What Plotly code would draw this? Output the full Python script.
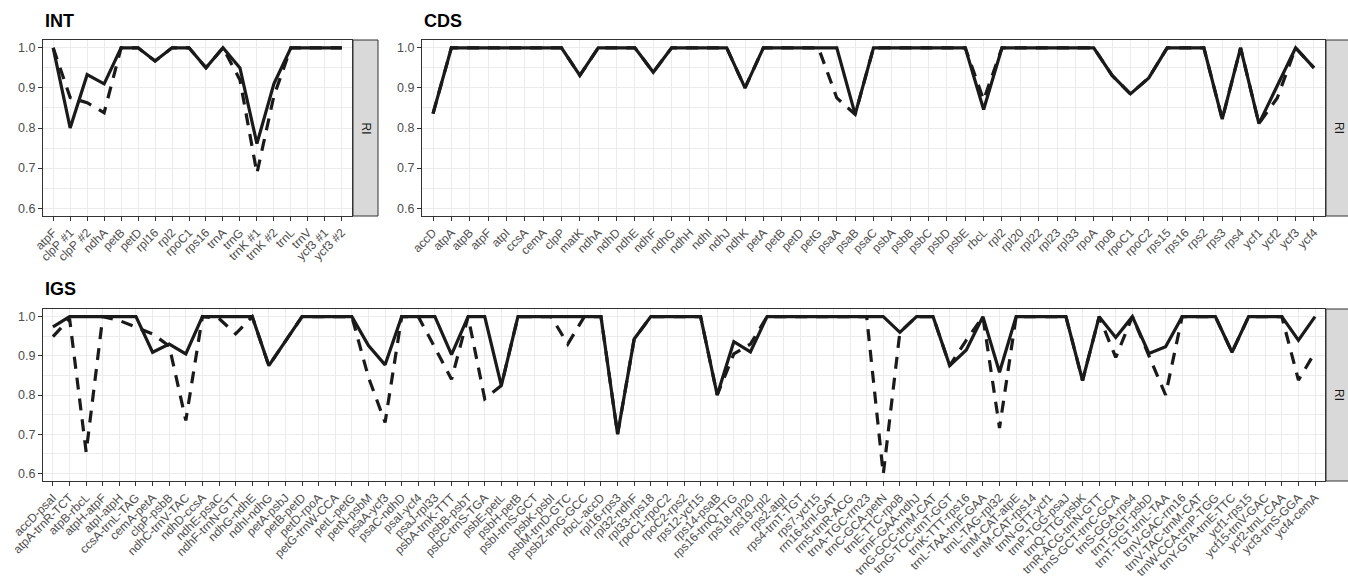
import plotly.graph_objects as go

# ---------------- data ----------------
int_cats = ["atpF", "clpP #1", "clpP #2", "ndhA", "petB", "petD", "rpl16", "rpl2", "rpoC1",
            "rps16", "trnA", "trnG", "trnK #1", "trnK #2", "trnL", "trnV", "ycf3 #1", "ycf3 #2"]
int_a = [1.0, 0.80, 0.933, 0.91, 1.0, 1.0, 0.967, 1.0, 1.0,
         0.95, 1.0, 0.95, 0.761, 0.91, 1.0, 1.0, 1.0, 1.0]
int_b = [1.0, 0.876, 0.863, 0.838, 1.0, 1.0, 0.967, 1.0, 1.0,
         0.95, 1.0, 0.92, 0.687, 0.88, 1.0, 1.0, 1.0, 1.0]

cds_cats = ["accD", "atpA", "atpB", "atpF", "atpI", "ccsA", "cemA", "clpP", "matK", "ndhA",
            "ndhD", "ndhE", "ndhF", "ndhG", "ndhH", "ndhI", "ndhJ", "ndhK", "petA", "petB",
            "petD", "petG", "psaA", "psaB", "psaC", "psbA", "psbB", "psbC", "psbD", "psbE",
            "rbcL", "rpl2", "rpl20", "rpl22", "rpl23", "rpl33", "rpoA", "rpoB", "rpoC1", "rpoC2",
            "rps15", "rps16", "rps2", "rps3", "rps4", "ycf1", "ycf2", "ycf3", "ycf4"]
cds_a = [0.836, 1.0, 1.0, 1.0, 1.0, 1.0, 1.0, 1.0, 0.931, 1.0,
         1.0, 1.0, 0.939, 1.0, 1.0, 1.0, 1.0, 0.90, 1.0, 1.0,
         1.0, 1.0, 1.0, 0.834, 1.0, 1.0, 1.0, 1.0, 1.0, 1.0,
         0.846, 1.0, 1.0, 1.0, 1.0, 1.0, 1.0, 0.931, 0.885, 0.925,
         1.0, 1.0, 1.0, 0.822, 1.0, 0.811, 0.905, 1.0, 0.95]
cds_b = [0.836, 1.0, 1.0, 1.0, 1.0, 1.0, 1.0, 1.0, 0.931, 1.0,
         1.0, 1.0, 0.939, 1.0, 1.0, 1.0, 1.0, 0.90, 1.0, 1.0,
         1.0, 1.0, 0.875, 0.834, 1.0, 1.0, 1.0, 1.0, 1.0, 1.0,
         0.87, 1.0, 1.0, 1.0, 1.0, 1.0, 1.0, 0.931, 0.885, 0.925,
         1.0, 1.0, 1.0, 0.822, 1.0, 0.811, 0.875, 1.0, 0.95]

igs_cats = ["accD-psaI", "atpA-trnR-TCT", "atpB-rbcL", "atpH-atpF", "atpI-atpH", "ccsA-trnL-TAG",
            "cemA-petA", "clpP-psbB", "ndhC-trnV-TAC", "ndhD-ccsA", "ndhE-psaC", "ndhF-trnN-GTT",
            "ndhG-ndhE", "ndhI-ndhG", "petA-psbJ", "petB-petD", "petD-rpoA", "petG-trnW-CCA",
            "petL-petG", "petN-psbM", "psaA-ycf3", "psaC-ndhD", "psaI-ycf4", "psaJ-rpl33",
            "psbA-trnK-TTT", "psbB-psbT", "psbC-trnS-TGA", "psbE-petL", "psbH-petB", "psbI-trnS-GCT",
            "psbK-psbI", "psbM-trnD-GTC", "psbZ-trnG-GCC", "rbcL-accD", "rpl16-rps3", "rpl32-ndhF",
            "rpl33-rps18", "rpoC1-rpoC2", "rpoC2-rps2", "rps12-ycf15", "rps14-psaB", "rps16-trnQ-TTG",
            "rps18-rpl20", "rps19-rpl2", "rps2-atpI", "rps4-trnT-TGT", "rps7-ycf15", "rrn16-trnI-GAT",
            "rrn5-trnR-ACG", "trnA-TGC-rrn23", "trnC-GCA-petN", "trnE-TTC-rpoB", "trnF-GAA-ndhJ",
            "trnG-GCC-trnM-CAT", "trnG-TCC-trnT-GGT", "trnK-TTT-rps16", "trnL-TAA-trnF-GAA",
            "trnL-TAG-rpl32", "trnM-CAT-atpE", "trnM-CAT-rps14", "trnN-GTT-ycf1", "trnP-TGG-psaJ",
            "trnQ-TTG-psbK", "trnR-ACG-trnN-GTT", "trnS-GCT-trnC-GCA", "trnS-GGA-rps4",
            "trnT-GGT-psbD", "trnT-TGT-trnL-TAA", "trnV-GAC-rrn16", "trnV-TAC-trnM-CAT",
            "trnW-CCA-trnP-TGG", "trnY-GTA-trnE-TTC", "ycf1-rps15", "ycf15-trnV-GAC",
            "ycf2-trnL-CAA", "ycf3-trnS-GGA", "ycf4-cemA"]
igs_a = [0.974, 1.0, 1.0, 1.0, 1.0, 1.0,
         0.909, 0.93, 0.905, 1.0, 1.0, 1.0,
         1.0, 0.875, 0.937, 1.0, 1.0, 1.0,
         1.0, 0.926, 0.877, 1.0, 1.0, 1.0,
         0.903, 1.0, 1.0, 0.824, 1.0, 1.0,
         1.0, 1.0, 1.0, 1.0, 0.70, 0.943,
         1.0, 1.0, 1.0, 1.0, 0.80, 0.936,
         0.91, 1.0, 1.0, 1.0, 1.0, 1.0,
         1.0, 1.0, 1.0, 0.96, 1.0,
         1.0, 0.875, 0.915, 1.0,
         0.858, 1.0, 1.0, 1.0, 1.0,
         0.837, 1.0, 0.947, 1.0,
         0.906, 0.923, 1.0, 1.0,
         1.0, 0.909, 1.0, 1.0,
         1.0, 0.94, 1.0]
igs_b = [0.949, 0.995, 0.654, 1.0, 0.99, 0.973,
         0.956, 0.925, 0.735, 1.0, 0.995, 0.956,
         1.0, 0.875, 0.937, 1.0, 1.0, 1.0,
         1.0, 0.845, 0.73, 1.0, 1.0, 0.921,
         0.84, 1.0, 0.79, 0.824, 1.0, 1.0,
         1.0, 0.93, 1.0, 1.0, 0.70, 0.943,
         1.0, 1.0, 1.0, 1.0, 0.80, 0.905,
         0.93, 1.0, 1.0, 1.0, 1.0, 1.0,
         1.0, 1.0, 0.598, 0.96, 1.0,
         1.0, 0.875, 0.94, 1.0,
         0.716, 1.0, 1.0, 1.0, 1.0,
         0.837, 1.0, 0.896, 1.0,
         0.90, 0.80, 1.0, 1.0,
         1.0, 0.909, 1.0, 1.0,
         1.0, 0.838, 0.909]

panel_titles = ["INT", "CDS", "IGS"]
strip_label = "RI"
y_ticks = [0.6, 0.7, 0.8, 0.9, 1.0]
y_minor = [0.65, 0.75, 0.85, 0.95]

# ---------------- figure ----------------
W, H = 1348, 580
FONT = "Liberation Sans, Arial, Helvetica, sans-serif"
LINE_C = "#1a1a1a"
fig = go.Figure()

panels = [
    (int_cats, int_a, int_b, "x", "y"),
    (cds_cats, cds_a, cds_b, "x2", "y2"),
    (igs_cats, igs_a, igs_b, "x3", "y3"),
]
for cats, a, b, xa, ya in panels:
    fig.add_trace(go.Scatter(x=cats, y=b, mode="lines", xaxis=xa, yaxis=ya,
                             line=dict(color=LINE_C, width=3.2, dash="12px,9px"),
                             showlegend=False, hoverinfo="x+y"))
    fig.add_trace(go.Scatter(x=cats, y=a, mode="lines", xaxis=xa, yaxis=ya,
                             line=dict(color=LINE_C, width=3.2),
                             showlegend=False, hoverinfo="x+y"))

def px_x(v):
    return v / W

def px_y(v):
    return 1 - v / H

top_dom = [px_y(216), px_y(40)]
bot_dom = [px_y(481), px_y(309)]
yr = [0.5805, 1.0195]

def xaxis(cats, dom, anchor):
    return dict(domain=dom, anchor=anchor, type="category",
                range=[-0.6, len(cats) - 0.4],
                tickmode="array", tickvals=cats, ticktext=cats, tickangle=-45,
                ticks="outside", ticklen=4, tickwidth=1, tickcolor="#333333",
                tickfont=dict(family=FONT, size=12, color="#4D4D4D"),
                showgrid=True, gridcolor="#EBEBEB", gridwidth=1.1,
                showline=True, mirror=True, linecolor="#333333", linewidth=1,
                zeroline=False, automargin=False, fixedrange=True)

def yaxis(dom, anchor):
    return dict(domain=dom, anchor=anchor, range=yr,
                tickmode="array", tickvals=y_ticks, ticktext=[f"{v:.1f}" for v in y_ticks],
                ticks="outside", ticklen=4, tickwidth=1, tickcolor="#333333",
                tickfont=dict(family=FONT, size=12.5, color="#4D4D4D"),
                showgrid=True, gridcolor="#EBEBEB", gridwidth=1.1,
                minor=dict(tickvals=y_minor, showgrid=True, gridcolor="#EBEBEB",
                           gridwidth=0.6, ticks=""),
                showline=True, mirror=True, linecolor="#333333", linewidth=1,
                zeroline=False, automargin=False, fixedrange=True)

fig.update_layout(
    width=W, height=H, margin=dict(l=0, r=0, t=0, b=0),
    paper_bgcolor="white", plot_bgcolor="white", showlegend=False,
    font=dict(family=FONT),
    xaxis=xaxis(int_cats, [px_x(43), px_x(352)], "y"),
    yaxis=yaxis(top_dom, "x"),
    xaxis2=xaxis(cds_cats, [px_x(422), px_x(1325)], "y2"),
    yaxis2=yaxis(top_dom, "x2"),
    xaxis3=xaxis(igs_cats, [px_x(43), px_x(1325)], "y3"),
    yaxis3=yaxis(bot_dom, "x3"),
)

# strips
strips = [
    (353, 378, top_dom),
    (1326, 1352, top_dom),
    (1326, 1352, bot_dom),
]
for x0, x1, dom in strips:
    fig.add_shape(type="rect", xref="paper", yref="paper",
                  x0=px_x(x0), x1=px_x(x1), y0=dom[0], y1=dom[1],
                  fillcolor="#D9D9D9", line=dict(color="#333333", width=1), layer="above")
    fig.add_annotation(xref="paper", yref="paper", x=px_x((x0 + x1) / 2),
                       y=(dom[0] + dom[1]) / 2, text=strip_label, textangle=90,
                       xanchor="center", yanchor="middle",
                       showarrow=False, font=dict(family=FONT, size=12, color="#1A1A1A"))

# titles
title_pos = [(43, 20.5), (422, 20.5), (43, 289)]
for t, (tx, ty) in zip(panel_titles, title_pos):
    fig.add_annotation(xref="paper", yref="paper", x=px_x(tx), y=px_y(ty),
                       xanchor="left", yanchor="middle", text=f"<b>{t}</b>",
                       showarrow=False, font=dict(family=FONT, size=18, color="#000000"))

fig.write_html("out.html", config={"displayModeBar": False},
               post_script="document.body.style.margin='0';document.body.style.overflow='hidden';")
